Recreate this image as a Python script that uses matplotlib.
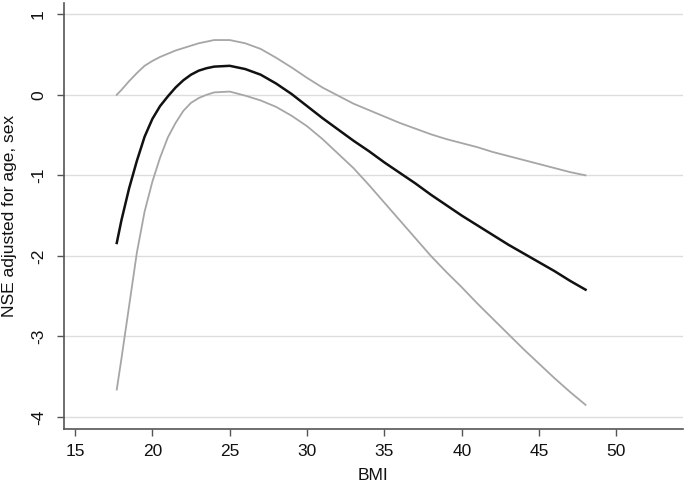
import matplotlib
matplotlib.use("Agg")
import matplotlib.pyplot as plt

bmi = [17.7, 18.0, 18.5, 19.0, 19.5, 20.0, 20.5, 21.0, 21.5, 22.0, 22.5, 23.0, 23.5, 24.0, 25.0,
       26.0, 27.0, 28.0, 29.0, 30.0, 31.0, 32.0, 33.0, 34.0, 35.0, 36.0, 37.0, 38.0,
       39.0, 40.0, 41.0, 42.0, 43.0, 44.0, 45.0, 46.0, 47.0, 48.0]

nse = [-1.84, -1.56, -1.16, -0.82, -0.52, -0.30, -0.14, -0.02, 0.09, 0.18, 0.25, 0.30, 0.33, 0.35, 0.36,
       0.32, 0.25, 0.14, 0.01, -0.14, -0.29, -0.43, -0.57, -0.70, -0.84, -0.97, -1.10, -1.24,
       -1.37, -1.50, -1.62, -1.74, -1.86, -1.97, -2.08, -2.19, -2.31, -2.42]

upper = [0.00, 0.06, 0.17, 0.27, 0.36, 0.42, 0.47, 0.51, 0.55, 0.58, 0.61, 0.64, 0.66, 0.68, 0.68,
         0.64, 0.57, 0.46, 0.34, 0.21, 0.09, -0.01, -0.11, -0.19, -0.27, -0.35, -0.42, -0.49,
         -0.55, -0.60, -0.65, -0.71, -0.76, -0.81, -0.86, -0.91, -0.96, -1.00]

lower = [-3.66, -3.28, -2.62, -1.96, -1.45, -1.08, -0.78, -0.53, -0.35, -0.20, -0.10, -0.04, 0.00, 0.03, 0.04,
         -0.01, -0.07, -0.15, -0.26, -0.39, -0.55, -0.73, -0.91, -1.12, -1.34, -1.56, -1.78, -2.00,
         -2.20, -2.39, -2.59, -2.78, -2.97, -3.16, -3.34, -3.52, -3.69, -3.85]

xticks = [15, 20, 25, 30, 35, 40, 45, 50]
yticks = [-4, -3, -2, -1, 0, 1]

plt.rcParams['font.family'] = ['Liberation Sans', 'DejaVu Sans']

fig = plt.figure(figsize=(6.85, 4.87), dpi=100)
ax = fig.add_axes([64/685, 1 - 429/487, (683 - 64)/685, (429 - 3)/487])

ax.plot(bmi, upper, color='#a6a6a6', lw=1.3)
ax.plot(bmi, lower, color='#a6a6a6', lw=1.3)
ax.plot(bmi, nse, color='#111111', lw=1.8)

ax.set_xlim(14.29, 54.3)
ax.set_ylim(-4.15, 1.14)
ax.set_xticks(xticks)
ax.set_yticks(yticks)
ax.set_yticklabels([str(v) for v in yticks], rotation=90, va='center')
ax.grid(axis='y', color='#dddddd', lw=1.0)
ax.set_axisbelow(True)

for s in ['top', 'right']:
    ax.spines[s].set_visible(False)
for s in ['left', 'bottom']:
    ax.spines[s].set_color('#555555')
    ax.spines[s].set_linewidth(1.2)

ax.tick_params(axis='both', length=5, width=1, color='#555555', labelsize=12.5,
               labelcolor='#111111')
ax.tick_params(axis='y', pad=8)
ax.tick_params(axis='x', pad=6)

ax.set_xlabel('BMI', fontsize=12.5, color='#111111', labelpad=6)
ax.set_ylabel('NSE adjusted for age, sex', fontsize=12.5, color='#111111', labelpad=10)

fig.savefig('out.png', dpi=100)
